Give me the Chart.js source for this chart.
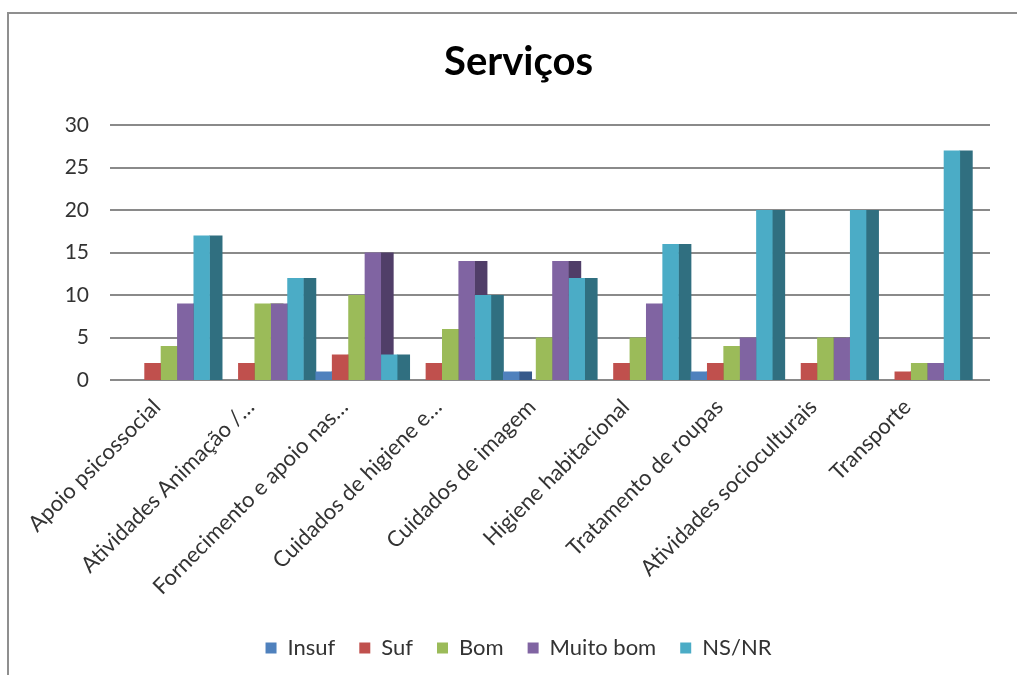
<!DOCTYPE html>
<html>
<head>
<meta charset="utf-8">
<script src="https://cdn.jsdelivr.net/npm/chart.js@4/dist/chart.umd.min.js"></script>
<style>
  html, body { margin: 0; padding: 0; background: #fff; overflow: hidden; }
  #frame {
    position: absolute; left: 7px; top: 12px; width: 1100px; height: 700px;
    border-left: 2px solid #8f8f8f; border-top: 2px solid #8f8f8f;
  }
  #wrap { position: absolute; left: 0; top: 0; width: 1017px; height: 675px; }
</style>
</head>
<body>
<div id="frame"></div>
<div id="wrap"><canvas id="myChart"></canvas></div>
<script>
// categorias (eixo X)
var categorias = [
  "Apoio psicossocial",
  "Atividades Animação /…",
  "Fornecimento e apoio nas…",
  "Cuidados de higiene e…",
  "Cuidados de imagem",
  "Higiene habitacional",
  "Tratamento de roupas",
  "Atividades socioculturais",
  "Transporte"
];

// séries
var insuf    = [0, 0, 1, 0, 1, 0, 1, 0, 0];
var suf      = [2, 2, 3, 2, 0, 2, 2, 2, 1];
var bom      = [4, 9, 10, 6, 5, 5, 4, 5, 2];
var muitoBom = [9, 9, 15, 14, 14, 9, 5, 5, 2];
var nsnr     = [17, 12, 3, 10, 12, 16, 20, 20, 27];

// eixo Y
var yMin = 0, yMax = 30, yStep = 5;

var fonte = "Lato, 'Open Sans', sans-serif";

// linhas de grade um pouco mais largas que a área (chão 3D)
// + lado escuro de cada barra (efeito 3D), desenhado antes das frentes
var fundo3d = {
  id: "fundo3d",
  beforeDatasetsDraw: function (chart) {
    var y = chart.scales.y, a = chart.chartArea, ctx = chart.ctx;
    ctx.save();
    ctx.strokeStyle = "#8a8a8a";
    ctx.lineWidth = 2;
    for (var v = yMin; v <= yMax; v += yStep) {
      var py = Math.round(y.getPixelForValue(v));
      ctx.beginPath();
      ctx.moveTo(a.left - 12, py);
      ctx.lineTo(a.right + 24, py);
      ctx.stroke();
    }
    chart.data.datasets.forEach(function (ds, i) {
      ctx.fillStyle = ds.sideColor;
      chart.getDatasetMeta(i).data.forEach(function (bar) {
        var p = bar.getProps(["x", "y", "base", "width"], true);
        if (p.base - p.y < 0.5) return;
        ctx.fillRect(p.x + p.width / 2 - 0.5, p.y, p.width * 0.8, p.base - p.y);
      });
    });
    ctx.restore();
  }
};

var ctx = document.getElementById("myChart").getContext("2d");

var chart = new Chart(ctx, {
  type: "bar",
  data: {
    labels: categorias,
    datasets: [
      { label: "Insuf", data: insuf, backgroundColor: "#4F81BD", sideColor: "#36598a" },
      { label: "Suf", data: suf, backgroundColor: "#C0504D", sideColor: "#8c3836" },
      { label: "Bom", data: bom, backgroundColor: "#9BBB59", sideColor: "#71893f" },
      { label: "Muito bom", data: muitoBom, backgroundColor: "#8064A2", sideColor: "#503e68" },
      { label: "NS/NR", data: nsnr, backgroundColor: "#4BACC6", sideColor: "#306f80" }
    ]
  },
  plugins: [fundo3d],
  options: {
    responsive: true,
    maintainAspectRatio: false,
    animation: false,
    layout: { padding: { left: 20, right: 0, top: 0, bottom: 6 } },
    datasets: {
      bar: { barPercentage: 1.0, categoryPercentage: 0.874 }
    },
    scales: {
      x: {
        grid: { display: false },
        border: { display: false },
        ticks: {
          color: "#333",
          font: { family: fonte, size: 22 },
          minRotation: 45,
          maxRotation: 45,
          autoSkip: false,
          padding: 6,
          labelOffset: -12
        },
        afterFit: function (s) { s.height = 233; }
      },
      y: {
        min: yMin,
        max: yMax,
        grid: { display: false, drawTicks: false },
        border: { display: false },
        ticks: {
          stepSize: yStep,
          color: "#333",
          font: { family: fonte, size: 21 },
          padding: 33
        },
        afterFit: function (s) { s.width = 102; }
      },
      direita: {
        position: "right",
        display: true,
        grid: { display: false },
        border: { display: false },
        ticks: { display: false },
        afterFit: function (s) { s.width = 51; }
      }
    },
    plugins: {
      title: {
        display: true,
        text: "Serviços",
        color: "#000",
        font: { family: fonte, size: 40, weight: "bold" },
        padding: { top: 38, bottom: 39 }
      },
      legend: {
        position: "bottom",
        labels: {
          color: "#333",
          font: { family: fonte, size: 22 },
          boxWidth: 11,
          boxHeight: 11,
          padding: 24
        }
      },
      tooltip: { enabled: false }
    }
  }
});
</script>
</body>
</html>
